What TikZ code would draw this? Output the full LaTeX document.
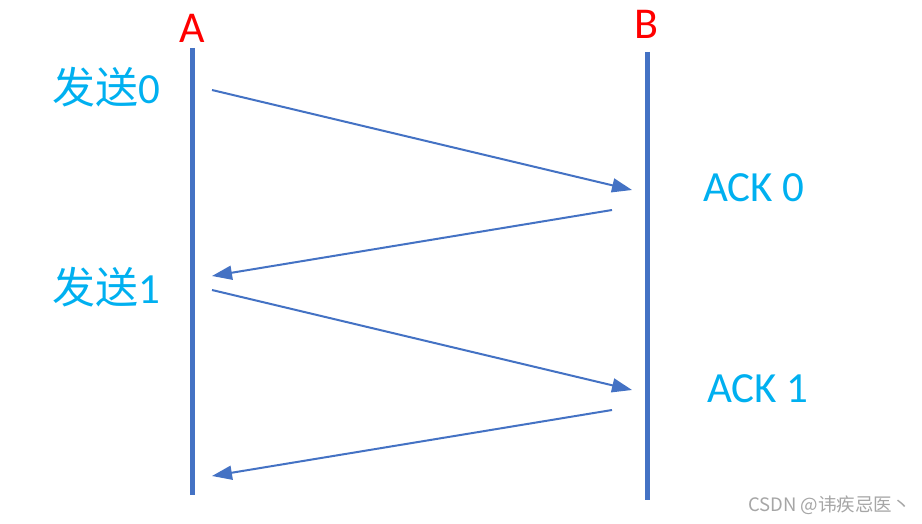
\documentclass[tikz,border=0pt]{standalone}
\usepackage{fontspec}
\setmainfont{Carlito}
\newfontfamily\cjk{Noto Sans CJK SC}
\usetikzlibrary{arrows.meta}
\definecolor{lineblue}{HTML}{4472C4}
\definecolor{txtblue}{HTML}{00B0F0}
\begin{document}
\begin{tikzpicture}[x=1pt,y=-1pt,
  life/.style={lineblue,line width=5pt},
  msg/.style={lineblue,line width=2pt,-{Triangle[length=20pt,width=14pt]}},
  lbl/.style={text=txtblue,font=\fontsize{43}{43}\selectfont,inner sep=0pt},
  hdr/.style={text=red,font=\fontsize{44}{44}\selectfont,inner sep=0pt}]
\useasboundingbox[fill=white] (0,0) rectangle (922,524);
\coordinate (a1) at (192,48);
\coordinate (a2) at (192,495);
\coordinate (b1) at (647,52);
\coordinate (b2) at (647,500);
\draw[life] (a1) -- (a2);
\draw[life] (b1) -- (b2);
\node[hdr] (A) at (192,28) {A};
\node[hdr] (B) at (646,24) {B};
\coordinate (s0) at (212,90);
\coordinate (r0) at (632,190);
\coordinate (k0) at (612,210);
\coordinate (q0) at (212,276);
\coordinate (s1) at (212,290);
\coordinate (r1) at (632,390);
\coordinate (k1) at (612,410);
\coordinate (q1) at (212,476);
\draw[msg] (s0) -- (r0);
\draw[msg] (k0) -- (q0);
\draw[msg] (s1) -- (r1);
\draw[msg] (k1) -- (q1);
\node[lbl,anchor=west] (t0) at (52,87) {{\cjk 发送}0};
\node[lbl,anchor=west] (t1) at (52,287) {{\cjk 发送}1};
\node[lbl,anchor=west] (c0) at (703,188) {ACK 0};
\node[lbl,anchor=west] (c1) at (707,389) {ACK 1};
\node[text=gray!70,font=\cjk\fontsize{18.5}{18.5}\selectfont,inner sep=0pt,anchor=east] (wm) at (911,505) {CSDN @讳疾忌医丶};
\end{tikzpicture}
\end{document}
